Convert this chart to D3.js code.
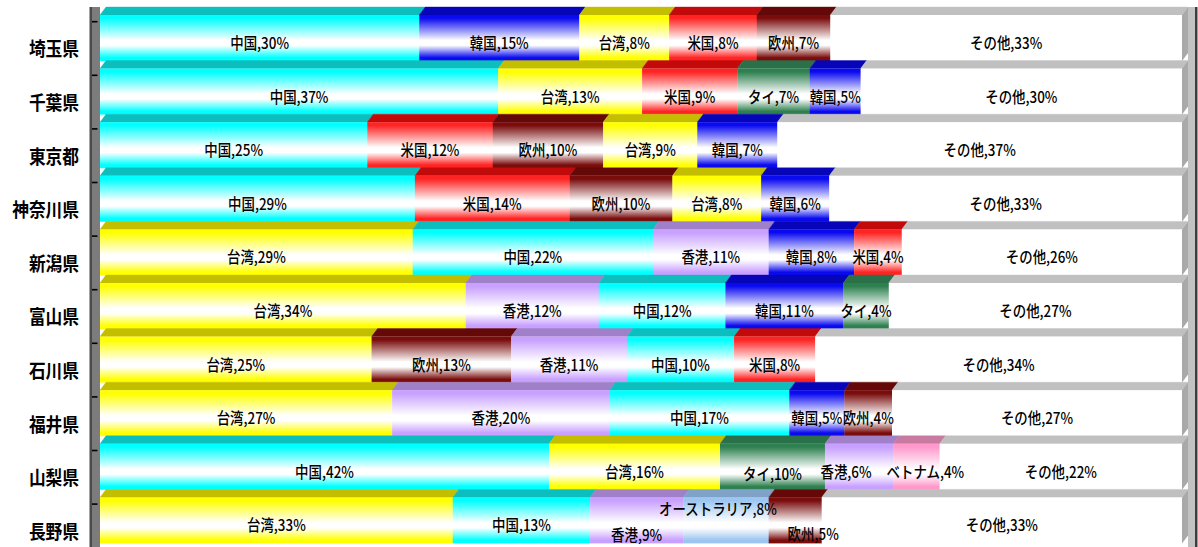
<!DOCTYPE html>
<html>
<head>
<meta charset="utf-8">
<script src="https://cdn.jsdelivr.net/npm/d3@7"></script>
<style>
  html, body { margin: 0; padding: 0; background: #fff; }
  svg { display: block; }
</style>
</head>
<body>
<svg id="chart" width="1198" height="547"></svg>
<script>
// ---------------- data ----------------
const prefectures = ["埼玉県","千葉県","東京都","神奈川県","新潟県","富山県","石川県","福井県","山梨県","長野県"];
const segmentNames = [
  ["中国","韓国","台湾","米国","欧州","その他"],
  ["中国","台湾","米国","タイ","韓国","その他"],
  ["中国","米国","欧州","台湾","韓国","その他"],
  ["中国","米国","欧州","台湾","韓国","その他"],
  ["台湾","中国","香港","韓国","米国","その他"],
  ["台湾","香港","中国","韓国","タイ","その他"],
  ["台湾","欧州","香港","中国","米国","その他"],
  ["台湾","香港","中国","韓国","欧州","その他"],
  ["中国","台湾","タイ","香港","ベトナム","その他"],
  ["台湾","中国","香港","オーストラリア","欧州","その他"]
];
// shares (%); labels show them rounded
const segmentValues = [
  [29.5,14.8,8.3,8.1,6.8,32.5],
  [36.8,13.3,8.8,6.7,4.7,29.7],
  [24.7,11.6,10.2,8.7,7.4,37.4],
  [29.1,14.3,9.5,8.2,6.3,32.6],
  [28.9,22.2,10.7,7.9,4.4,25.9],
  [33.8,12.3,11.7,10.9,4.2,27.1],
  [25.1,12.9,10.7,9.9,7.5,33.9],
  [27.0,20.1,16.6,5.1,4.4,26.8],
  [41.5,15.8,9.7,6.3,4.3,22.4],
  [32.6,12.7,8.6,7.9,4.9,33.3]
];

// ---------------- styles ----------------
const colors = {
  "中国":        { front: "#00FFFF", top: "#0CBEBE" },
  "韓国":        { front: "#0A0AF0", top: "#0606B8" },
  "台湾":        { front: "#FFFF00", top: "#C4BE00" },
  "米国":        { front: "#FF2424", top: "#C20A0A" },
  "欧州":        { front: "#7A0C0C", top: "#640808" },
  "タイ":        { front: "#2E8050", top: "#2A7048" },
  "香港":        { front: "#C8A0FF", top: "#A080C8" },
  "オーストラリア": { front: "#9CC6F0", top: "#7FA3C8" },
  "ベトナム":     { front: "#FF99CC", top: "#C87AA0" },
  "その他":      { front: "#FFFFFF", top: "#C0C0C0" }
};
const catKeys = Object.keys(colors);

const svg = d3.select("#chart");
const defs = svg.append("defs");
catKeys.forEach((k, i) => {
  const g = defs.append("linearGradient")
    .attr("id", "g" + i).attr("x1", 0).attr("y1", 0).attr("x2", 0).attr("y2", 1);
  const c = colors[k].front;
  const stops = k === "その他"
    ? [[0, "#fff"], [1, "#fff"]]
    : [[0, c], [0.07, c], [0.55, "#ffffff"], [0.66, "#ffffff"], [0.93, c], [1, c]];
  stops.forEach(s => g.append("stop").attr("offset", s[0]).attr("stop-color", s[1]));
});
const gradId = k => "url(#g" + catKeys.indexOf(k) + ")";

// ---------------- geometry ----------------
const X0 = 100, X1 = 1182;
const DX = 6, DY = 8;          // 3D depth offset
const FRONT_H = 46;
const x = d3.scaleLinear().domain([0, 1]).range([X0, X1]);
const y = d3.scaleBand().domain(prefectures).range([7, 7 + 53.6 * prefectures.length]).paddingInner(0).paddingOuter(0);

// walls
svg.append("rect").attr("x", 92).attr("y", 7).attr("width", 8).attr("height", 547).attr("fill", "#7C7C7C");
svg.append("rect").attr("x", 89.5).attr("y", 7).attr("width", 2.5).attr("height", 547).attr("fill", "#4A4A4A");
svg.append("rect").attr("x", 1188).attr("y", 7).attr("width", 7).attr("height", 547).attr("fill", "#C2C2C2");
svg.append("rect").attr("x", 1195).attr("y", 7).attr("width", 2.5).attr("height", 547).attr("fill", "#3C3C3C");

// ticks on left wall
svg.append("g").selectAll("line").data(prefectures).join("line")
  .attr("x1", 92).attr("x2", 97.5)
  .attr("y1", d => y(d) + 14.7).attr("y2", d => y(d) + 14.7)
  .attr("stroke", "#000").attr("stroke-width", 1.6);

// build row data
const rows = prefectures.map((p, i) => {
  const vals = segmentValues[i];
  const total = d3.sum(vals);
  const cum = [0, ...d3.cumsum(vals)];
  return {
    pref: p,
    segs: vals.map((v, j) => ({
      pref: p, name: segmentNames[i][j], value: v,
      s0: cum[j] / total, s1: cum[j + 1] / total, last: j === vals.length - 1
    }))
  };
});

const barsG = svg.append("g");
rows.forEach(r => {
  const g = barsG.append("g");
  const yt = y(r.pref);           // top of the top face
  const yf = yt + DY;             // top of the front face
  g.selectAll("polygon.top").data(r.segs).join("polygon").attr("class", "top")
    .attr("points", d => {
      const a = x(d.s0), b = x(d.s1);
      return [[a, yf], [b, yf], [b + DX, yt], [a + DX, yt]].map(p => p.join(",")).join(" ");
    })
    .attr("fill", d => colors[d.name].top)
    .attr("stroke", d => colors[d.name].top).attr("stroke-width", 0.4);
  g.selectAll("rect.front").data(r.segs).join("rect").attr("class", "front")
    .attr("x", d => x(d.s0)).attr("y", yf)
    .attr("width", d => x(d.s1) - x(d.s0) + 0.3).attr("height", FRONT_H)
    .attr("fill", d => gradId(d.name));
  const lastSeg = r.segs[r.segs.length - 1];
  const e = x(lastSeg.s1);
  g.append("polygon")
    .attr("points", [[e, yf], [e + DX, yt], [e + DX, yt + FRONT_H], [e, yf + FRONT_H]].map(p => p.join(",")).join(" "))
    .attr("fill", "#A9A9A9");
});

// category labels
svg.append("g").selectAll("text").data(prefectures).join("text")
  .attr("transform", d => `translate(79,${y(d) + 41}) scale(0.88,1)`)
  .attr("text-anchor", "end").attr("dominant-baseline", "central")
  .attr("font-family", "'Noto Sans CJK JP', sans-serif")
  .attr("font-size", 19).attr("font-weight", "bold").attr("fill", "#000")
  .text(d => d);

// data label nudges (Excel's overlap avoidance)
const nudge = {
  "長野県|香港": [0, 10],
  "長野県|オーストラリア": [-8, -16],
  "長野県|欧州": [18, 9],
  "山梨県|タイ": [0, 2],
  "山梨県|香港": [-13, 0],
  "山梨県|ベトナム": [9, 0]
};
const allSegs = rows.flatMap(r => r.segs);
svg.append("g").selectAll("text").data(allSegs).join("text")
  .attr("transform", d => {
    const n = nudge[d.pref + "|" + d.name] || [0, 0];
    const cx = (x(d.s0) + x(d.s1)) / 2 + n[0];
    const cy = y(d.pref) + 35 + n[1];
    return `translate(${cx},${cy}) scale(0.84,1)`;
  })
  .attr("text-anchor", "middle").attr("dominant-baseline", "central")
  .attr("font-family", "'Noto Sans CJK JP', sans-serif")
  .attr("font-size", 16).attr("font-weight", 500).attr("fill", "#000")
  .text(d => `${d.name},${Math.round(d.value)}%`);
</script>
</body>
</html>
